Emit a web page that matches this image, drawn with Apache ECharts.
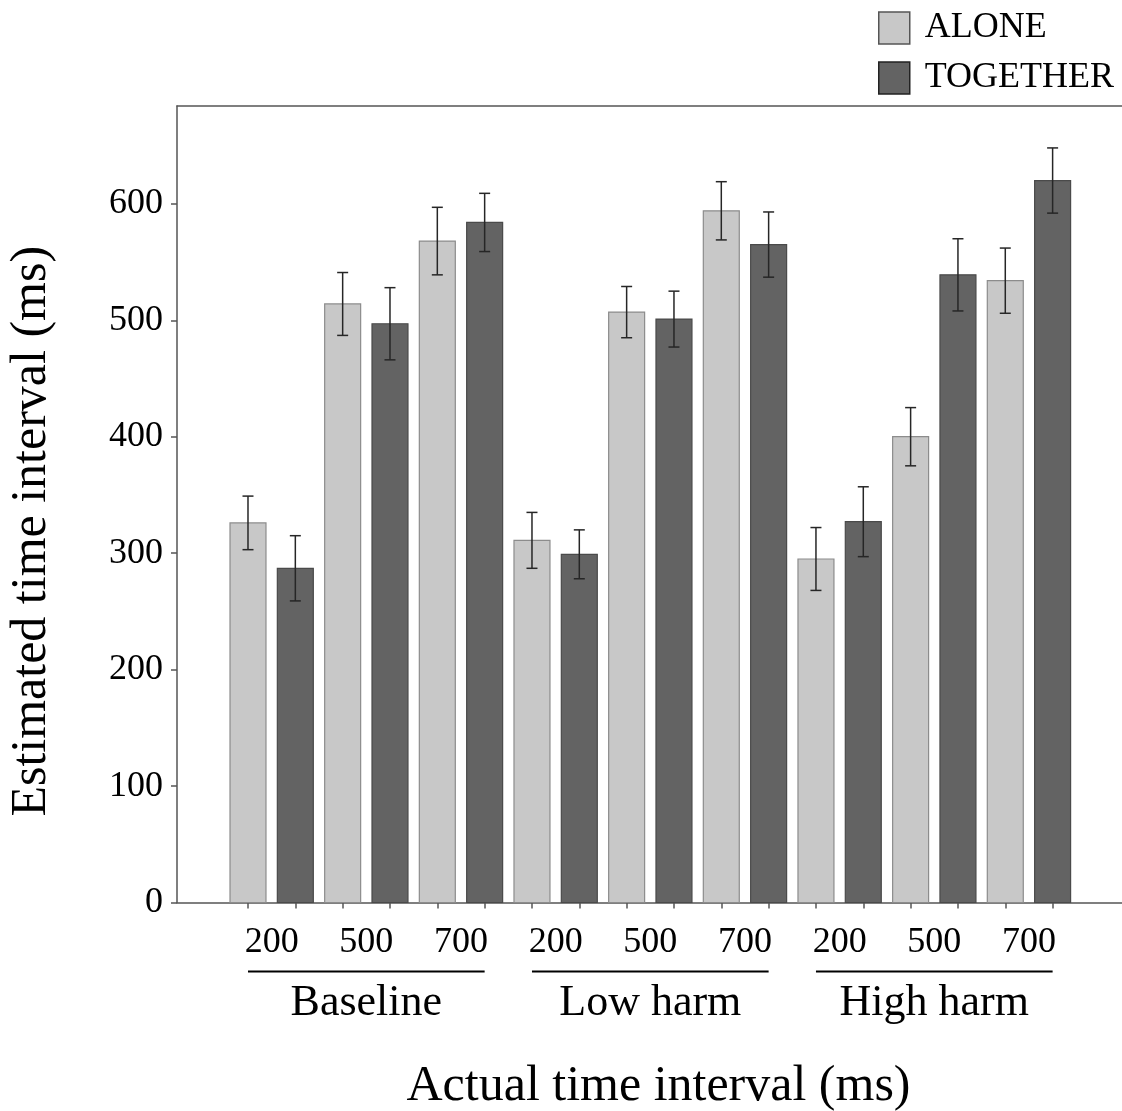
<!DOCTYPE html>
<html><head><meta charset="utf-8">
<script src="https://cdn.jsdelivr.net/npm/echarts@6/dist/echarts.min.js"></script>
<style>html,body{margin:0;padding:0;background:#fff}#c{width:1122px;height:1111px}</style>
</head><body><div id="c"></div>
<script>
// ---- data ----
const groups = ['Baseline', 'Low harm', 'High harm'];
const intervals = ['200', '500', '700'];
const alone = [326, 514, 568, 311, 507, 594, 295, 400, 534];
const together = [287, 497, 584, 299, 501, 565, 327, 539, 620];
const aloneErr = [23, 27, 29, 24, 22, 25, 27, 25, 28];
const togetherErr = [28, 31, 25, 21, 24, 28, 30, 31, 28];
const yTicks = [0, 100, 200, 300, 400, 500, 600];
const seriesNames = ['ALONE', 'TOGETHER'];

// bar slots: condition i -> ALONE at 2i, TOGETHER at 2i+1
const aloneData = alone.map((v, i) => [2 * i, v, aloneErr[i]]);
const togetherData = together.map((v, i) => [2 * i + 1, v, togetherErr[i]]);
const barSlots = alone.flatMap((v, i) => [2 * i, 2 * i + 1]);
const pairCenters = alone.map((v, i) => 2 * i + 0.5);
const groupCenters = groups.map((g, k) => 6 * k + 2.5);
const underlineData = groups.map((g, k) => [6 * k, 6 * k + 5]);

const FONT = 'Liberation Serif';
const AXIS = '#555';
const COLORS = { ALONE: ['#c8c8c8', '#8c8c8c'], TOGETHER: ['#636363', '#4a4a4a'] };

function makeBarRender(fill, stroke) {
  return function (params, api) {
    const x = api.value(0), y = api.value(1), e = api.value(2);
    const top = api.coord([x, y]);
    const base = api.coord([x, 0]);
    const w = api.size([1, 0])[0] * 0.76;
    const eTop = api.coord([x, y + e]);
    const eBot = api.coord([x, y - e]);
    const cap = 5.5;
    const es = { stroke: '#262626', lineWidth: 1.5 };
    return {
      type: 'group',
      children: [
        { type: 'rect', shape: { x: top[0] - w / 2, y: top[1], width: w, height: base[1] - top[1] },
          style: { fill: fill, stroke: stroke, lineWidth: 1.2 } },
        { type: 'line', shape: { x1: top[0], y1: eTop[1], x2: top[0], y2: eBot[1] }, style: es },
        { type: 'line', shape: { x1: top[0] - cap, y1: eTop[1], x2: top[0] + cap, y2: eTop[1] }, style: es },
        { type: 'line', shape: { x1: top[0] - cap, y1: eBot[1], x2: top[0] + cap, y2: eBot[1] }, style: es }
      ]
    };
  };
}

const chart = echarts.init(document.getElementById('c'), null, { renderer: 'canvas' });
chart.setOption({
  animation: false,
  backgroundColor: '#fff',
  textStyle: { fontFamily: FONT },
  legend: {
    orient: 'vertical', left: 878, top: 10, padding: 0,
    itemWidth: 31, itemHeight: 32, itemGap: 14,
    textStyle: { fontFamily: FONT, fontSize: 36, color: '#000', padding: [4, 0, 0, 10] },
    data: [
      { name: 'ALONE', icon: 'rect', itemStyle: { color: COLORS.ALONE[0], borderColor: '#555', borderWidth: 1.5 } },
      { name: 'TOGETHER', icon: 'rect', itemStyle: { color: COLORS.TOGETHER[0], borderColor: '#222', borderWidth: 1.5 } }
    ]
  },
  grid: { left: 177, right: 0, top: 106, bottom: 208.5, containLabel: false, outerBoundsMode: 'none' },
  xAxis: [
    {
      type: 'value', position: 'bottom', min: -1.5, max: 18.466,
      axisLine: { show: true, onZero: false, lineStyle: { color: AXIS, width: 1.5 } },
      axisTick: { show: true, customValues: barSlots, length: 6, lineStyle: { color: AXIS, width: 1.5 } },
      axisLabel: {
        customValues: pairCenters, margin: 22, fontSize: 36, fontFamily: FONT, color: '#000',
        formatter: v => intervals[Math.round((v - 0.5) / 2) % 3]
      },
      splitLine: { show: false }
    },
    {
      type: 'value', position: 'bottom', min: -1.5, max: 18.466,
      axisLine: { show: false, onZero: false },
      axisTick: { show: false },
      axisLabel: {
        customValues: groupCenters, margin: 79, fontSize: 44, fontFamily: FONT, color: '#000',
        formatter: v => groups[Math.round((v - 2.5) / 6)]
      },
      splitLine: { show: false },
      name: 'Actual time interval (ms)', nameLocation: 'middle', nameGap: 159,
      nameTextStyle: { fontSize: 50, fontFamily: FONT, color: '#000', padding: [0, 0, 0, 18] }
    },
    {
      type: 'value', position: 'top', min: -1.5, max: 18.466,
      axisLine: { show: true, onZero: false, lineStyle: { color: AXIS, width: 1.5 } },
      axisTick: { show: false }, axisLabel: { show: false }, splitLine: { show: false }
    }
  ],
  yAxis: {
    type: 'value', min: 0, max: 684, interval: 100,
    axisLine: { show: true, onZero: false, lineStyle: { color: AXIS, width: 1.5 } },
    axisTick: { show: true, customValues: yTicks, length: 6, lineStyle: { color: AXIS, width: 1.5 } },
    axisLabel: { customValues: yTicks, margin: 14, fontSize: 36, fontFamily: FONT, color: '#000', padding: [5, 0, 0, 0] },
    splitLine: { show: false },
    name: 'Estimated time interval (ms)', nameLocation: 'middle', nameGap: 120, nameRotate: 90,
    nameTextStyle: { fontSize: 50, fontFamily: FONT, color: '#000', padding: [0, 54, 0, 0] }
  },
  series: [
    {
      name: 'ALONE', type: 'custom', xAxisIndex: 0, yAxisIndex: 0, clip: false,
      itemStyle: { color: COLORS.ALONE[0] },
      renderItem: makeBarRender(COLORS.ALONE[0], COLORS.ALONE[1]),
      encode: { x: 0, y: 1 },
      data: aloneData
    },
    {
      name: 'TOGETHER', type: 'custom', xAxisIndex: 0, yAxisIndex: 0, clip: false,
      itemStyle: { color: COLORS.TOGETHER[0] },
      renderItem: makeBarRender(COLORS.TOGETHER[0], COLORS.TOGETHER[1]),
      encode: { x: 0, y: 1 },
      data: togetherData
    },
    {
      name: 'underline', type: 'custom', xAxisIndex: 0, yAxisIndex: 0, clip: false, silent: true,
      renderItem: function (params, api) {
        const a = api.coord([api.value(0), 0]);
        const b = api.coord([api.value(1), 0]);
        return { type: 'line', shape: { x1: a[0], y1: a[1] + 69, x2: b[0], y2: b[1] + 69 },
                 style: { stroke: '#000', lineWidth: 2 } };
      },
      encode: { x: [0, 1] },
      data: underlineData
    }
  ]
});
</script>
</body></html>
